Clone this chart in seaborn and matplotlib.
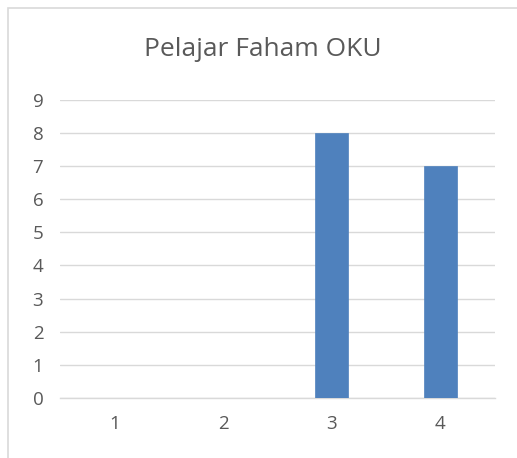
import matplotlib
matplotlib.use("Agg")
import matplotlib.pyplot as plt
import seaborn as sns
import pandas as pd
from matplotlib.patches import Rectangle

categories = ["1", "2", "3", "4"]
values = [0, 0, 8, 7]
yticks = [0, 1, 2, 3, 4, 5, 6, 7, 8, 9]
title = "Pelajar Faham OKU"

sns.set_theme(style="white")
plt.rcParams['font.family'] = ['Open Sans', 'DejaVu Sans']

df = pd.DataFrame({"cat": categories, "val": values})

fig = plt.figure(figsize=(5.17, 4.58), dpi=100)
ax = fig.add_axes([0.116, 0.131, 0.841, 0.651])
sns.barplot(data=df, x="cat", y="val", color="#4F81BD", saturation=1,
            width=0.3, ax=ax, zorder=3, edgecolor="#4F81BD", linewidth=0.5)
ax.set_ylim(0, 9)
ax.set_xlim(-0.5, 3.5)
ax.set_yticks(yticks)
ax.set_yticklabels([str(t) for t in yticks])
ax.yaxis.grid(True, color="#D9D9D9", linewidth=1, zorder=0)
ax.set_axisbelow(True)
for s in ["top", "right", "left"]:
    ax.spines[s].set_visible(False)
ax.spines["bottom"].set_color("#D9D9D9")
ax.spines["bottom"].set_linewidth(1)
ax.set_xlabel("")
ax.set_ylabel("")
ax.tick_params(axis="both", length=0, labelsize=13.5, colors="#595959")
ax.tick_params(axis="y", pad=12)
ax.tick_params(axis="x", pad=12)
fig.text(0.508, 0.893, title, ha="center", va="center", fontsize=19, color="#595959")

fig.patches.append(Rectangle((8/517, -0.1), 1.2, 1 - 8/458 + 0.1, transform=fig.transFigure,
                             fill=False, edgecolor="#D9D9D9", linewidth=1.2))

fig.savefig("out.png", dpi=100)
